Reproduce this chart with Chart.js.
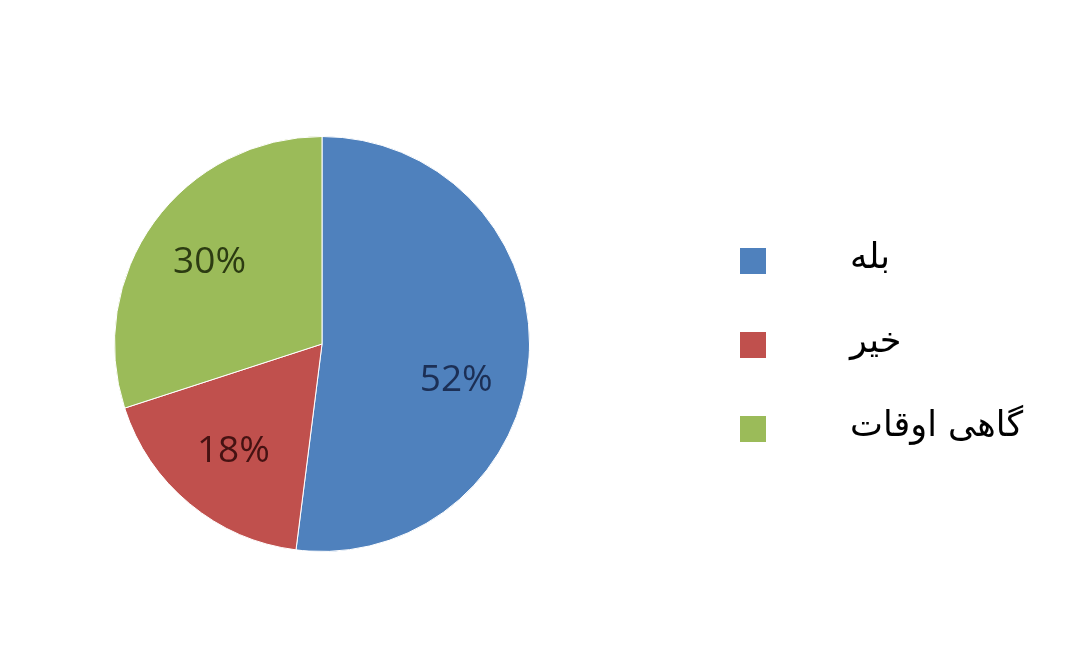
<!DOCTYPE html>
<html>
<head>
<meta charset="utf-8">
<script src="https://cdn.jsdelivr.net/npm/chart.js@4/dist/chart.umd.min.js"></script>
<style>
  html, body { margin: 0; padding: 0; background: #fff; }
  #chart { display: block; }
</style>
</head>
<body>
<canvas id="chart" width="1070" height="670"></canvas>
<script>
const labels = ['بله', 'خیر', 'گاهی اوقات'];
const values = [52, 18, 30];
const colors = ['#4F81BD', '#C0504D', '#9BBB59'];
const labelColors = ['#1c2f55', '#451212', '#2c3b12'];

// percentage labels inside slices
const sliceLabels = {
  id: 'sliceLabels',
  afterDatasetsDraw(chart, args, opts) {
    const ctx = chart.ctx;
    const meta = chart.getDatasetMeta(0);
    ctx.save();
    ctx.font = '37px "Open Sans"';
    ctx.textAlign = 'center';
    ctx.textBaseline = 'middle';
    meta.data.forEach((arc, i) => {
      const mid = (arc.startAngle + arc.endAngle) / 2 + (opts.shift[i] || 0);
      const r = arc.outerRadius * 0.67;
      ctx.fillStyle = labelColors[i];
      ctx.fillText(values[i] + '%', arc.x + Math.cos(mid) * r, arc.y + Math.sin(mid) * r);
    });
    ctx.restore();
  }
};

// legend on the right: box then text
const sideLegend = {
  id: 'sideLegend',
  afterDraw(chart) {
    const ctx = chart.ctx;
    ctx.save();
    ctx.font = '35px "DejaVu Sans"';
    ctx.textBaseline = 'middle';
    ctx.textAlign = 'left';
    labels.forEach((lab, i) => {
      const y = 261 + i * 84;
      ctx.fillStyle = colors[i];
      ctx.fillRect(740, y - 13, 26, 26);
      ctx.fillStyle = '#000';
      ctx.fillText(lab, 850, y - 2);
    });
    ctx.restore();
  }
};

new Chart(document.getElementById('chart'), {
  type: 'pie',
  data: {
    labels,
    datasets: [{
      data: values,
      backgroundColor: colors,
      borderColor: '#ffffff',
      borderWidth: 1
    }]
  },
  options: {
    responsive: false,
    animation: false,
    layout: { padding: { left: 114, right: 540, top: 136, bottom: 118 } },
    plugins: {
      legend: { display: false },
      tooltip: { enabled: false },
      sliceLabels: { shift: [0.2, 0, 0] }
    }
  },
  plugins: [sliceLabels, sideLegend]
});
</script>
</body>
</html>
